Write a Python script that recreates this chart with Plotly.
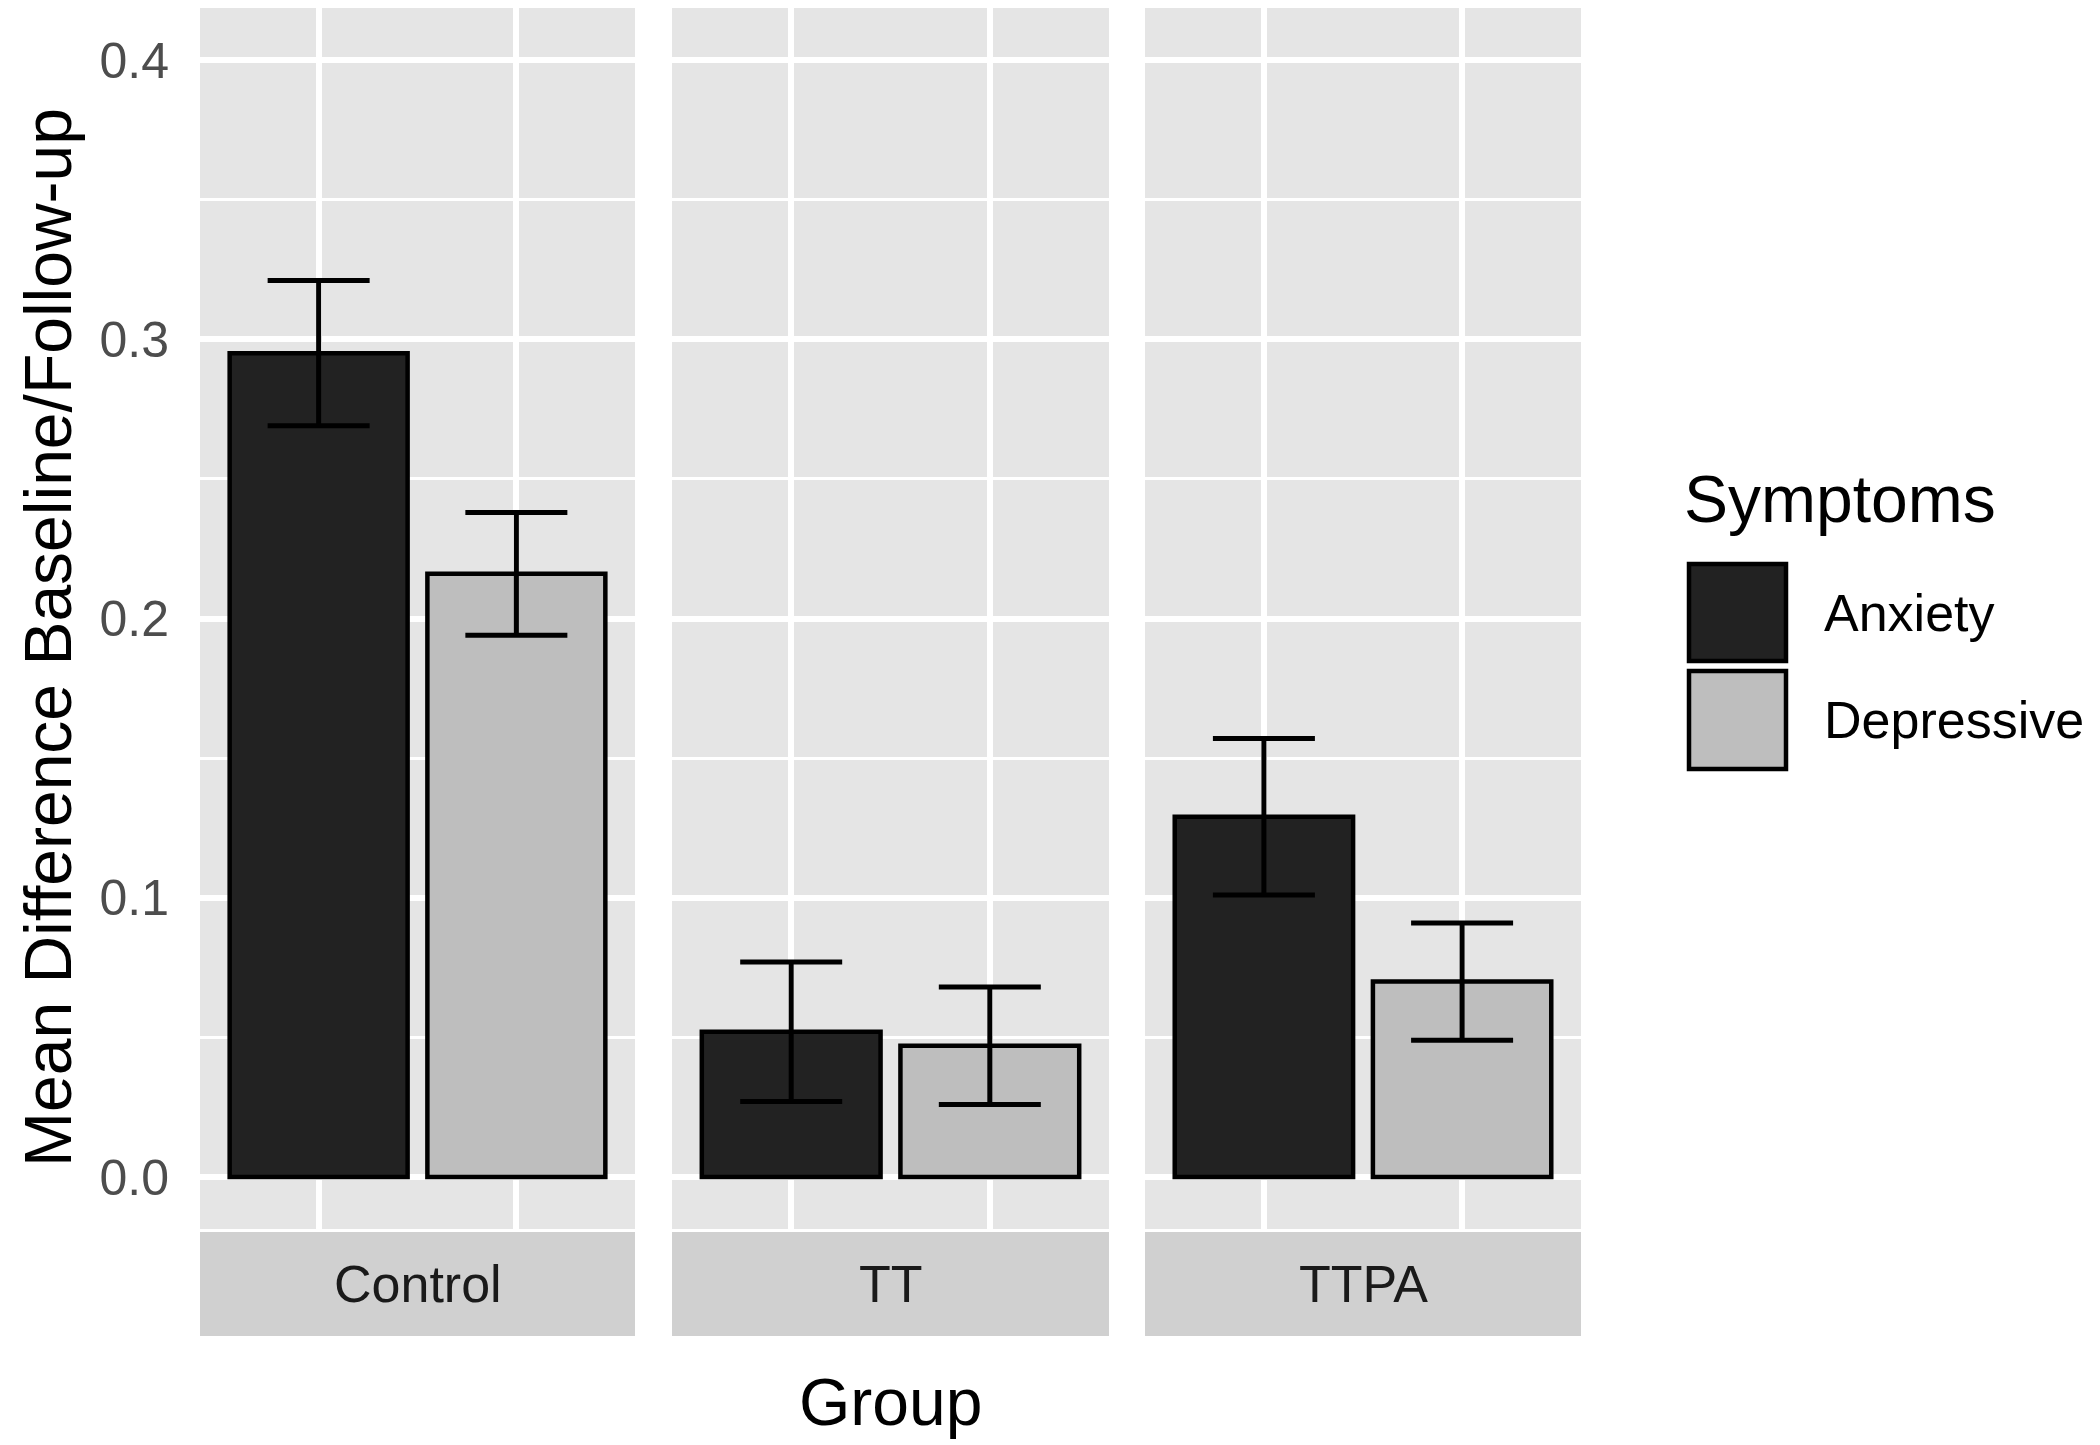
import plotly.graph_objects as go

# --- data
groups = ["Control", "TT", "TTPA"]
symptoms = ["Anxiety", "Depressive"]
anxiety_mean = [0.295, 0.052, 0.129]
anxiety_se = [0.026, 0.025, 0.028]
depressive_mean = [0.216, 0.047, 0.070]
depressive_se = [0.022, 0.021, 0.021]
y_ticks = [0.0, 0.1, 0.2, 0.3, 0.4]

fills = {"Anxiety": "#222222", "Depressive": "#BEBEBE"}
font_family = "Liberation Sans, Arial, sans-serif"
W, H = 2100, 1445
OFF = 8  # default body margin of the html page

# panel positions in page pixels (left, right)
panels = [(200, 635), (672, 1109), (1145, 1581)]
panel_top, panel_bottom = 8, 1229
strip_top, strip_bottom = 1232, 1336
px_per_unit = 2792.5  # pixels per 1.0 on the y axis
y0_px = 1177          # page y of value 0


def px_x(v):
    return (v - OFF) / W


def px_y(v):
    return (H - (v - OFF)) / H


y_min = -(panel_bottom - y0_px) / px_per_unit
y_max = (y0_px - panel_top) / px_per_unit

fig = go.Figure()

for i, g in enumerate(groups):
    ax = "" if i == 0 else str(i + 1)
    fig.add_trace(go.Bar(
        x=[1, 2],
        y=[anxiety_mean[i], depressive_mean[i]],
        width=0.9,
        marker=dict(color=[fills[s] for s in symptoms],
                    line=dict(color="black", width=4.5)),
        error_y=dict(type="data", array=[anxiety_se[i], depressive_se[i]],
                     color="black", thickness=5, width=51),
        xaxis="x" + ax, yaxis="y",
        showlegend=False,
    ))

layout = dict(
    width=W, height=H,
    margin=dict(l=0, r=0, t=0, b=0),
    paper_bgcolor="white",
    plot_bgcolor="#E5E5E5",
    font=dict(family=font_family, size=52, color="#4D4D4D"),
    yaxis=dict(
        domain=[px_y(panel_bottom), min(1.0, px_y(panel_top))],
        range=[y_min, y_max],
        tickvals=y_ticks,
        ticktext=[f"{v:.1f}" for v in y_ticks],
        ticks="", ticklabelstandoff=30,
        tickfont=dict(size=50, color="#4D4D4D"),
        showgrid=True, gridcolor="white", gridwidth=6,
        minor=dict(dtick=0.05, tick0=0, showgrid=True, gridcolor="white", gridwidth=3),
        zeroline=False, showline=False,
        anchor="x",
    ),
)

shapes = []
annotations = []
for i, (l, r) in enumerate(panels):
    key = "xaxis" if i == 0 else f"xaxis{i + 1}"
    layout[key] = dict(
        domain=[px_x(l), px_x(r)],
        range=[0.4, 2.6],
        tickvals=[1, 2], showticklabels=False, ticks="",
        showgrid=True, gridcolor="white", gridwidth=6,
        zeroline=False, showline=False,
        anchor="y",
    )
    # facet strip
    shapes.append(dict(type="rect", xref="paper", yref="paper",
                       x0=px_x(l), x1=px_x(r), y0=px_y(strip_bottom), y1=px_y(strip_top),
                       fillcolor="#D0D0D0", line=dict(width=0), layer="below"))
    annotations.append(dict(text=groups[i], xref="paper", yref="paper",
                            x=px_x((l + r) / 2), y=px_y((strip_top + strip_bottom) / 2),
                            showarrow=False, xanchor="center", yanchor="middle",
                            font=dict(size=52, color="#1A1A1A")))

# axis titles
annotations.append(dict(text="Mean Difference Baseline/Follow-up", xref="paper", yref="paper",
                        x=px_x(48), y=px_y(638), textangle=-90, showarrow=False,
                        xanchor="center", yanchor="middle", borderpad=0,
                        font=dict(size=66, color="black")))
annotations.append(dict(text="Group", xref="paper", yref="paper",
                        x=px_x(890), y=px_y(1402), showarrow=False,
                        xanchor="center", yanchor="middle",
                        font=dict(size=66, color="black")))

# legend, drawn by hand so the keys match the big ggplot squares
annotations.append(dict(text="Symptoms", xref="paper", yref="paper",
                        x=px_x(1682), y=px_y(499), showarrow=False,
                        xanchor="left", yanchor="middle",
                        font=dict(size=66, color="black")))
key_rows = [(564, 661), (671, 769)]
for s, (t, b) in zip(symptoms, key_rows):
    shapes.append(dict(type="rect", xref="paper", yref="paper",
                       x0=px_x(1689), x1=px_x(1786), y0=px_y(b), y1=px_y(t),
                       fillcolor=fills[s], line=dict(color="black", width=4.5)))
    annotations.append(dict(text=s, xref="paper", yref="paper",
                            x=px_x(1822), y=px_y((t + b) / 2), showarrow=False,
                            xanchor="left", yanchor="middle",
                            font=dict(size=52, color="black")))

layout["shapes"] = shapes
layout["annotations"] = annotations
fig.update_layout(**layout)

fig.write_html("out.html")
